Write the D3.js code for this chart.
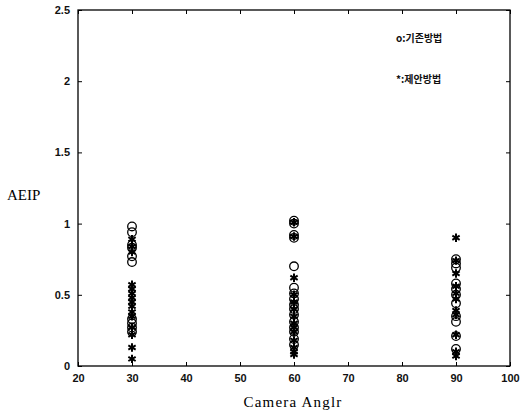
<!DOCTYPE html>
<html>
<head>
<meta charset="utf-8">
<script src="https://cdn.jsdelivr.net/npm/d3@7"></script>
<style>
  body { margin: 0; background: #fff; }
</style>
</head>
<body>
<div id="chart"></div>
<script>
// data
var angles = [30, 60, 90];
var xTicks = [20, 30, 40, 50, 60, 70, 80, 90, 100];
var yTicks = [0, 0.5, 1, 1.5, 2, 2.5];

// o : 기존방법 (existing method)
var oldAt30 = [0.98, 0.94, 0.85, 0.83, 0.77, 0.73, 0.33, 0.30, 0.27, 0.24];
var oldAt60 = [1.02, 1.00, 0.92, 0.90, 0.70, 0.55, 0.51, 0.47, 0.43, 0.40, 0.36, 0.31, 0.27, 0.24, 0.19, 0.15];
var oldAt90 = [0.75, 0.72, 0.69, 0.58, 0.54, 0.50, 0.44, 0.35, 0.31, 0.21, 0.12];

// * : 제안방법 (proposed method)
var newAt30 = [0.89, 0.84, 0.80, 0.57, 0.54, 0.51, 0.48, 0.45, 0.42, 0.38, 0.35, 0.27, 0.22, 0.13, 0.05];
var newAt60 = [1.01, 0.91, 0.62, 0.50, 0.45, 0.40, 0.35, 0.30, 0.27, 0.24, 0.18, 0.13, 0.10, 0.08];
var newAt90 = [0.90, 0.74, 0.65, 0.56, 0.51, 0.47, 0.39, 0.36, 0.22, 0.10, 0.07];

var width = 521, height = 414;
var margin = {top: 10, right: 11, bottom: 48, left: 78};
var w = width - margin.left - margin.right,
    h = height - margin.top - margin.bottom;

var svg = d3.select("#chart").append("svg")
  .attr("width", width).attr("height", height);
var g = svg.append("g").attr("transform", "translate(" + margin.left + "," + margin.top + ")");

var x = d3.scaleLinear().domain([20, 100]).range([0, w]);
var y = d3.scaleLinear().domain([0, 2.5]).range([h, 0]);

var tickFont = "Liberation Sans, Arial, sans-serif";
var serif = "'Liberation Serif', 'Times New Roman', serif";

// axes, ticks pointing in (matlab style)
g.append("g")
  .attr("transform", "translate(0," + h + ")")
  .call(d3.axisBottom(x).tickValues(xTicks).tickSizeInner(-4).tickSizeOuter(0).tickPadding(8))
  .call(function(a) { a.select(".domain").remove(); });
g.append("g")
  .call(d3.axisTop(x).tickValues(xTicks).tickSizeInner(-4).tickSizeOuter(0).tickFormat(""))
  .call(function(a) { a.select(".domain").remove(); });
g.append("g")
  .call(d3.axisLeft(y).tickValues(yTicks).tickSizeInner(-4).tickSizeOuter(0).tickPadding(8).tickFormat(d3.format("")))
  .call(function(a) { a.select(".domain").remove(); });
g.append("g")
  .attr("transform", "translate(" + w + ",0)")
  .call(d3.axisRight(y).tickValues(yTicks).tickSizeInner(-4).tickSizeOuter(0).tickFormat(""))
  .call(function(a) { a.select(".domain").remove(); });

g.selectAll(".tick text")
  .attr("font-family", tickFont)
  .attr("font-size", 11)
  .attr("font-weight", "bold")
  .attr("fill", "#111");
g.selectAll(".tick line").attr("stroke", "#000");

g.append("rect")
  .attr("width", w).attr("height", h)
  .attr("fill", "none").attr("stroke", "#000").attr("stroke-width", 1.3);

function pairs(xv, vals) {
  return vals.map(function(v) { return {x: xv, y: v}; });
}
var oldPts = pairs(angles[0], oldAt30).concat(pairs(angles[1], oldAt60), pairs(angles[2], oldAt90));
var newPts = pairs(angles[0], newAt30).concat(pairs(angles[1], newAt60), pairs(angles[2], newAt90));

g.selectAll(".old")
  .data(oldPts)
  .enter().append("circle")
  .attr("class", "old")
  .attr("cx", function(d) { return x(d.x); })
  .attr("cy", function(d) { return y(d.y); })
  .attr("r", 4.3)
  .attr("fill", "none")
  .attr("stroke", "#000")
  .attr("stroke-width", 1.3);

var star = d3.symbol().type(d3.symbolAsterisk || d3.symbolCross).size(50);
g.selectAll(".new")
  .data(newPts)
  .enter().append("path")
  .attr("class", "new")
  .attr("transform", function(d) { return "translate(" + x(d.x) + "," + y(d.y) + ")"; })
  .attr("d", star)
  .attr("fill", "none")
  .attr("stroke", "#000")
  .attr("stroke-width", 2);

// legend text
var legFont = "'Noto Sans CJK KR', sans-serif";
svg.append("text").attr("x", 396).attr("y", 42)
  .attr("font-family", legFont).attr("font-size", 10).attr("font-weight", "bold").attr("fill", "#111")
  .text("o:기존방법");
svg.append("text").attr("x", 396).attr("y", 83)
  .attr("font-family", legFont).attr("font-size", 10).attr("font-weight", "bold").attr("fill", "#111")
  .text("*:제안방법");

// axis labels
svg.append("text")
  .attr("x", 7).attr("y", 200)
  .attr("font-family", serif)
  .attr("font-size", 15)
  .text("AEIP");
svg.append("text")
  .attr("x", 293).attr("y", 407)
  .attr("text-anchor", "middle")
  .attr("font-family", serif)
  .attr("font-size", 15)
  .attr("letter-spacing", 1.2)
  .text("Camera Anglr");
</script>
</body>
</html>
